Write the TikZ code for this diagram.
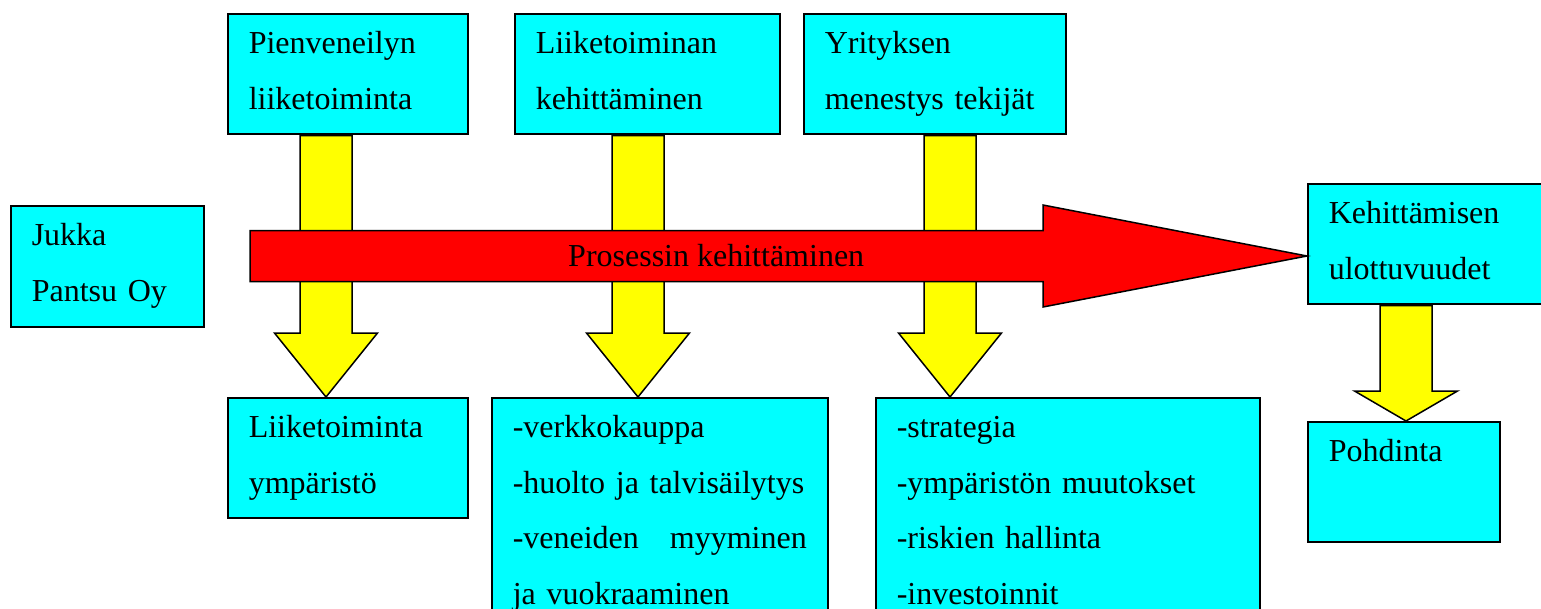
\documentclass[tikz,border=0pt]{standalone}
\usepackage{fontspec}
\setmainfont{Liberation Serif}
\usetikzlibrary{calc}

\definecolor{boxcyan}{RGB}{0,255,255}
\definecolor{arrowyellow}{RGB}{255,255,0}
\definecolor{arrowred}{RGB}{255,0,0}

\begin{document}
\begin{tikzpicture}[x=1pt, y=-1pt,
      cyanbox/.style 2 args={rectangle, draw=black, fill=boxcyan, line width=1.5pt,
        anchor=north west, align=left, inner xsep=21pt, inner ysep=0pt,
        text width=#1-42pt, text height=40pt, text depth=#2-40pt,
        font=\fontsize{32}{55.5}\selectfont},
      yellowarrow/.style={draw=black, fill=arrowyellow, line width=1.5pt},
      redarrow/.style={draw=black, fill=arrowred, line width=1.5pt}]

    \useasboundingbox (0,0) rectangle (1541,608);
    \clip (0,0) rectangle (1541,608);

    \node[cyanbox={240pt}{120pt}] (pien)  at (227,13)  {Pienveneilyn\\liiketoiminta};
    \node[cyanbox={265pt}{120pt}] (liike) at (514,13)  {Liiketoiminan\\kehittäminen};
    \node[cyanbox={262pt}{120pt}] (yrit)  at (803,13)  {Yrityksen\\menestys tekijät};

    \node[cyanbox={193pt}{121pt}] (jukka) at (10,205)  {Jukka\\Pantsu Oy};
    \node[cyanbox={240pt}{120pt}] (kehit) at (1307,183) {Kehittämisen\\ulottuvuudet};
    \node[cyanbox={192pt}{120pt}] (pohd)  at (1307,421) {Pohdinta};

    \node[cyanbox={240pt}{120pt}] (ymp)    at (227,397) {Liiketoiminta\\ympäristö};
    \node[cyanbox={336pt}{240pt}] (verkko) at (491,397)
      {-verkkokauppa\\-huolto ja talvisäilytys\\-veneiden\hfill myyminen\\ja vuokraaminen};
    \node[cyanbox={384pt}{240pt}] (strat)  at (875,397)
      {-strategia\\-ympäristön muutokset\\-riskien hallinta\\-investoinnit};

    % yellow block arrows
    \foreach \x/\a/\b/\h in {326/pien/ymp/64, 638/liike/verkko/64,
        950/yrit/strat/64, 1406/kehit/pohd/30} {
      \path (\x,0 |- \a.south) coordinate (top) (\x,0 |- \b.north) coordinate (tip);
      \draw[yellowarrow] ($(top)+(-26,1)$) -- ($(tip)+(-26,-\h)$)
        -- ($(tip)+(-51.5,-\h)$) -- (tip) -- ($(tip)+(51.5,-\h)$)
        -- ($(tip)+(26,-\h)$) -- ($(top)+(26,1)$) -- cycle;
    }

    % red process arrow
    \coordinate (tail) at (250,256);
    \coordinate (rtip) at (tail -| kehit.west);
    \draw[redarrow] ($(tail)+(0,-25.5)$) -- ($(rtip)+(-264,-25.5)$)
      -- ($(rtip)+(-264,-51)$) -- (rtip) -- ($(rtip)+(-264,51)$)
      -- ($(rtip)+(-264,25.5)$) -- ($(tail)+(0,25.5)$) -- cycle;
    \node[anchor=base west, inner sep=0pt, font=\fontsize{32}{38}\selectfont]
      (proc) at (568,266) {Prosessin kehittäminen};

  \end{tikzpicture}
\end{document}
